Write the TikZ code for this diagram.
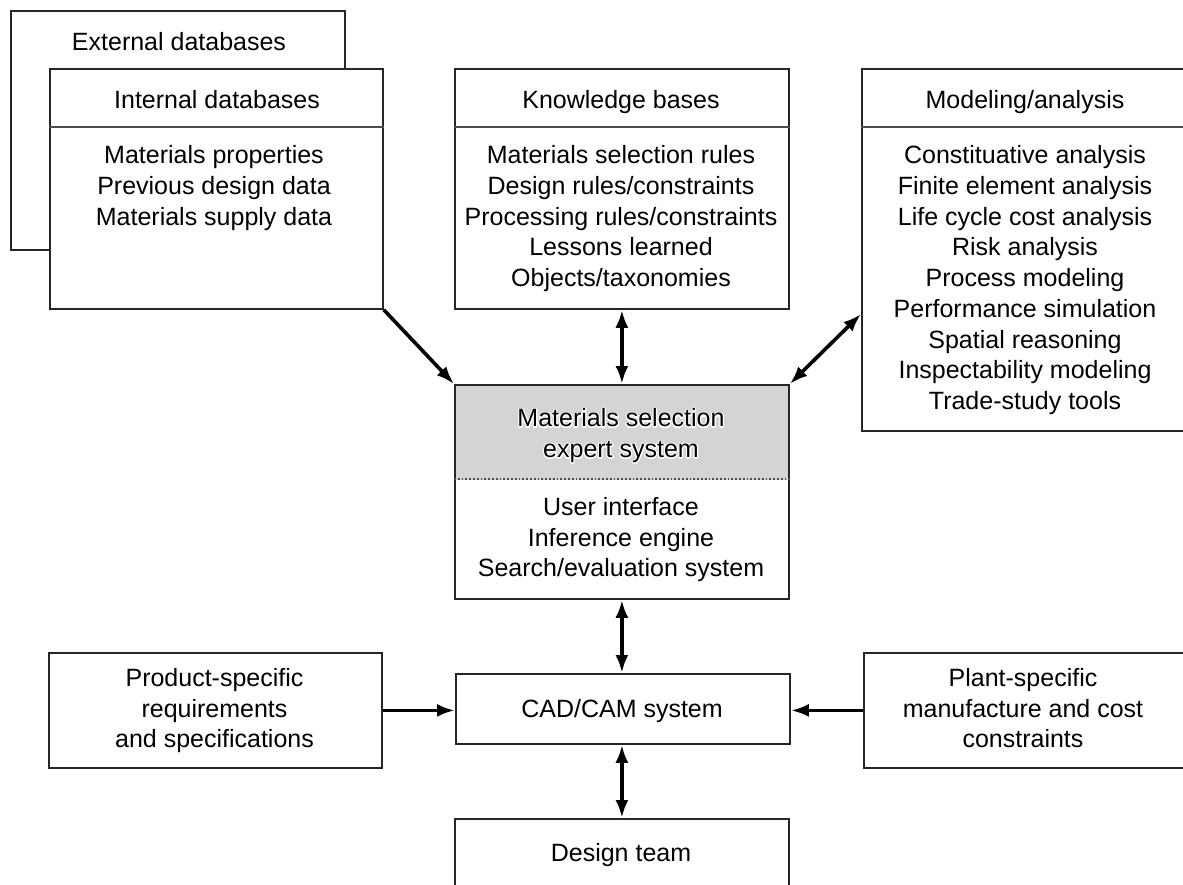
\documentclass[tikz,border=0pt]{standalone}
\usepackage{fontspec}
\setmainfont{Liberation Sans}
\newfontfamily\halofont[FakeBold=10]{Liberation Sans}
\usetikzlibrary{arrows.meta}
% white outline behind text set on the shaded header
\newcommand{\haloline}[1]{\rlap{\color{white}\halofont #1}#1}
\begin{document}
\begin{tikzpicture}[x=1pt,y=-1pt,
  box/.style={draw=black!85,line width=1.8,inner sep=0,anchor=north west,fill=white},
  divider/.style={draw=black!70,line width=1.8},
  txt/.style={font=\fontsize{25}{30.7}\selectfont,align=center,inner sep=0,text=black},
  head/.style={txt,anchor=base},
  body/.style={txt,anchor=north},
  link/.style={line width=3.6,-{Latex[length=18,width=13]}},
  dlink/.style={line width=3.6,{Latex[length=18,width=13]}-{Latex[length=18,width=13]}},
]
\clip (0,0) rectangle (1183,884);
\fill[white] (0,0) rectangle (1183,884);

% ---- database stack ----
\node[box,minimum width=334,minimum height=239] (ext) at (10,10) {};
\node[head] (extT) at (179,50) {External databases};
\node[box,minimum width=333,minimum height=240] (int) at (49,68) {};
\draw[divider] ([yshift=-59]int.north west) -- ([yshift=-59]int.north east);
\node[head] (intT) at (217,108) {Internal databases};
\node[body] (intB) at (214,145.5) {Materials properties\\Previous design data\\Materials supply data};

% ---- knowledge bases ----
\node[box,minimum width=334,minimum height=240] (know) at (454,68) {};
\draw[divider] ([yshift=-59]know.north west) -- ([yshift=-59]know.north east);
\node[head] (knowT) at (621,108) {Knowledge bases};
\node[body] (knowB) at (621,145.5) {Materials selection rules\\Design rules/constraints\\Processing rules/constraints\\Lessons learned\\Objects/taxonomies};

% ---- modeling / analysis ----
\node[box,minimum width=334,minimum height=362] (model) at (861,68) {};
\draw[divider] ([yshift=-59]model.north west) -- ([yshift=-59]model.north east);
\node[head] (modelT) at (1025,108) {Modeling/analysis};
\node[body] (modelB) at (1025,145.5) {Constituative analysis\\Finite element analysis\\Life cycle cost analysis\\Risk analysis\\Process modeling\\Performance simulation\\Spatial reasoning\\Inspectability modeling\\Trade-study tools};

% ---- expert system ----
\node[box,minimum width=334,minimum height=214,
      path picture={\fill[black!17] (path picture bounding box.north west)
         rectangle ([yshift=-95]path picture bounding box.north east);}] (ctr) at (454,384) {};
\draw[divider,dotted] ([yshift=-95]ctr.north west) -- ([yshift=-95]ctr.north east);
\begin{scope}[line join=round,line cap=round]
\node[body] (ctrT) at (621,408.5) {\haloline{Materials selection}\\\haloline{expert system}};
\end{scope}
\node[body] (ctrB) at (621,497) {User interface\\Inference engine\\Search/evaluation system};

% ---- lower row ----
\node[box,minimum width=333,minimum height=115] (prod) at (48,652) {};
\node[body] (prodT) at (214.5,668) {Product-specific\\requirements\\and specifications};
\node[box,minimum width=334,minimum height=70] (cad) at (455,673) {};
\node[head] (cadT) at (622,717) {CAD/CAM system};
\node[box,minimum width=334,minimum height=115] (plant) at (863,652) {};
\node[body] (plantT) at (1023,668) {Plant-specific\\manufacture and cost\\constraints};
\node[box,minimum width=334,minimum height=100] (team) at (454,818) {};
\node[head] (teamT) at (621,861) {Design team};

% ---- connectors ----
\draw[link] (int.south east) -- (ctr.north west);
\draw[dlink] (know.south) -- (ctr.north);
\draw[dlink] ([yshift=-246]model.north west) -- (ctr.north east);
\draw[dlink] (ctr.south) -- (ctr.south |- cad.north);
\draw[link] (prod.east) -- (prod.east -| cad.west);
\draw[link] (plant.west) -- (plant.west -| cad.east);
\draw[dlink] (ctr.south |- cad.south) -- (ctr.south |- team.north);
\end{tikzpicture}
\end{document}
